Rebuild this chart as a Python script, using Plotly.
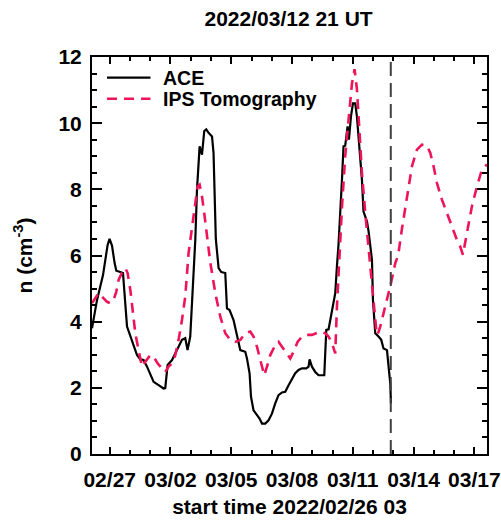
import pandas as pd
import plotly.graph_objects as go

# ---------------- data ----------------
start_time = "2022-02-26 03:00"
end_time = "2022-03-17 15:00"
marker_time = "2022-03-12 21:00"
title_text = "2022/03/12 21 UT"
xlabel_text = "start time 2022/02/26 03"
ylabel_text = "n (cm<sup>-3</sup>)"
series_names = ["ACE", "IPS Tomography"]

# hours since start time
ace_hours = [0.0, 5.9, 9.8, 13.0, 15.8, 18.5, 20.8, 23.7, 26.8, 28.8, 33.5, 36.7,
             41.5, 45.4, 49.3, 53.3, 57.2, 61.1, 65.2, 69.1, 73.0, 78.9, 84.8, 86.8,
             89.6, 94.8, 98.7, 103.4, 106.6, 110.5, 113.2, 116.4, 118.5, 120.4, 122.4,
             124.4, 126.3, 127.5, 130.3, 133.0, 135.4, 138.1, 142.2, 144.0, 146.7,
             150.0, 153.2, 157.9, 159.9, 163.0, 167.7, 171.8, 175.7, 181.6, 183.6,
             186.7, 188.4, 191.4, 195.5, 198.5, 201.4, 205.3, 209.2, 213.2, 217.1,
             221.0, 225.1, 229.0, 232.9, 236.9, 240.8, 244.7, 248.8, 253.9, 256.6,
             257.8, 260.6, 264.5, 268.4, 275.2, 277.6, 280.3, 282.3, 285.5, 288.2,
             290.2, 292.0, 296.2, 298.0, 300.0, 302.8, 304.4, 306.8, 309.2, 311.9,
             313.9, 317.0, 319.8, 321.7, 325.8, 327.7, 329.7, 331.7, 332.9, 335.6,
             339.5, 342.7, 345.4, 349.5, 351.4, 353.4, 354.2]
ace_n = [3.8, 4.65, 5.06, 5.4, 5.87, 6.32, 6.5, 6.3, 5.77, 5.54, 5.5, 5.47,
         3.85, 3.55, 3.24, 2.99, 2.86, 2.84, 2.64, 2.38, 2.18, 2.08, 1.98, 1.99,
         2.69, 2.84, 3.04, 3.24, 3.45, 3.5, 3.14, 3.55, 4.45, 5.47, 6.48,
         8.0, 9.0, 9.3, 9.05, 9.76, 9.81, 9.71, 9.6, 9.1, 6.5,
         5.62, 5.5, 5.47, 4.4, 4.35, 4.05, 3.55, 3.14, 3.09, 2.89,
         2.44, 1.73, 1.32, 1.17, 1.07, 0.92, 0.92, 1.02, 1.22, 1.53,
         1.78, 1.86, 1.88, 2.08, 2.28, 2.44, 2.54, 2.59, 2.59, 2.64,
         2.86, 2.64, 2.48, 2.38, 2.38, 3.75, 3.77, 4.05, 4.45, 4.86,
         5.67, 6.3, 8.3, 9.3, 9.32, 9.9, 9.5, 10.2, 10.6, 10.6,
         10.2, 9.2, 8.3, 7.33, 7.03, 6.73, 6.27, 5.87, 4.66, 3.65,
         3.55, 3.45, 3.19, 3.14, 2.64, 2.13, 1.53]

ips_hours = [0.0, 3.9, 7.8, 11.8, 17.8, 21.7, 25.6, 28.8, 31.5, 35.5, 39.4, 42.2,
             45.4, 48.6, 51.3, 55.2, 59.2, 63.1, 69.1, 73.0, 77.7, 82.9, 86.8, 90.7,
             94.8, 98.7, 102.6, 106.6, 110.5, 114.4, 118.5, 122.4, 125.1, 127.5,
             130.3, 133.0, 136.2, 140.1, 146.1, 152.0, 157.9, 163.8, 169.7, 175.7,
             181.6, 187.5, 191.4, 195.5, 199.4, 204.1, 207.3, 211.2, 217.1, 221.0,
             225.1, 231.0, 234.9, 238.8, 243.6, 248.8, 254.7, 260.6, 265.7, 270.4,
             276.4, 280.3, 284.3, 288.2, 290.2, 292.1, 294.1, 296.2, 300.0, 304.0,
             308.0, 311.1, 313.9, 317.0, 319.8, 323.8, 327.7, 331.7, 334.4, 336.8,
             338.3, 341.5, 345.4, 349.5, 354.2, 359.3, 362.7, 367.2, 373.1, 379.1,
             385.0, 390.9, 396.8, 400.8, 404.7, 408.7, 414.6, 420.5, 426.5, 432.4,
             436.3, 439.5, 444.2, 450.1, 456.1, 462.0, 467.9]
ips_n = [4.56, 4.71, 4.86, 4.76, 4.6, 4.56, 4.66, 4.91, 5.26, 5.48, 5.62, 5.47,
         4.96, 4.25, 3.65, 3.14, 2.64, 2.79, 2.99, 2.94, 2.74, 2.59, 2.48, 2.64,
         2.74, 2.99, 3.45, 4.05, 4.76, 6.07, 6.88, 7.69, 8.09, 8.14,
         7.79, 7.28, 6.55, 5.8, 4.86, 4.15, 3.65, 3.45, 3.39, 3.45,
         3.65, 3.7, 3.55, 3.24, 2.84, 2.38, 2.64, 2.99, 3.29, 3.39,
         3.24, 3.04, 2.89, 3.09, 3.39, 3.55, 3.6, 3.6, 3.65, 3.7,
         3.65, 3.55, 3.35, 3.04, 4.45, 5.47, 6.47, 7.48, 9.0, 10.2,
         11.2, 11.63, 11.02, 9.71, 8.5, 7.28, 6.27, 5.26, 4.45, 3.75,
         3.6, 3.85, 4.25, 4.66, 5.16, 5.77, 6.0, 6.8, 7.79, 8.7,
         9.2, 9.35, 9.32, 9.1, 8.7, 8.19, 7.69, 7.28, 6.88, 6.47,
         6.27, 6.02, 6.68, 7.48, 8.09, 8.6, 8.75]

# ---------------- styling ----------------
FONT = "Liberation Sans, Arial, sans-serif"
ace_color = "#000000"
ips_color = "#EE1458"
vline_color = "#404040"

t0 = pd.Timestamp(start_time)
ace_t = t0 + pd.to_timedelta(ace_hours, unit="h")
ips_t = t0 + pd.to_timedelta(ips_hours, unit="h")

fig = go.Figure()
fig.add_trace(go.Scatter(x=ace_t, y=ace_n, mode="lines", name=series_names[0],
                         line=dict(color=ace_color, width=2.2)))
fig.add_trace(go.Scatter(x=ips_t, y=ips_n, mode="lines", name=series_names[1],
                         line=dict(color=ips_color, width=2.6, dash="10px,7px")))

fig.add_shape(type="line", xref="x", yref="paper",
              x0=pd.Timestamp(marker_time), x1=pd.Timestamp(marker_time), y0=0, y1=1,
              line=dict(color=vline_color, width=2, dash="14px,7px"))

# legend drawn inside the frame (upper left)
leg_rows = [(0.948, ace_color, "solid", 2.2), (0.895, ips_color, "10px,7px", 2.6)]
for (yp, col, dsh, w), name in zip(leg_rows, series_names):
    fig.add_shape(type="line", xref="paper", yref="paper", x0=0.038, x1=0.148,
                  y0=yp, y1=yp, line=dict(color=col, width=w, dash=dsh))
    fig.add_annotation(x=0.174, y=yp, xref="paper", yref="paper", text=f"<b>{name}</b>",
                       showarrow=False, xanchor="left", yanchor="middle",
                       font=dict(family=FONT, size=19.5, color="black"))

axis_common = dict(showline=True, linewidth=2, linecolor="black", mirror="allticks",
                   ticks="inside", tickcolor="black", tickwidth=1.5, showgrid=False,
                   zeroline=False, automargin=False,
                   tickfont=dict(family=FONT, size=21, color="black"))

fig.update_xaxes(type="date", range=[t0, pd.Timestamp(end_time)],
                 tick0="2022-02-27", dtick=3 * 86400000, tickformat="<b>%m/%d</b>",
                 ticklen=7, ticklabeloverflow="allow", ticklabelstandoff=6,
                 minor=dict(dtick=86400000, tick0="2022-02-27", ticks="inside", ticklen=4,
                            tickcolor="black", tickwidth=1.5, showgrid=False),
                 title=dict(text=f"<b>{xlabel_text}</b>", standoff=9,
                            font=dict(family=FONT, size=21, color="black")),
                 **axis_common)
fig.update_yaxes(range=[0, 12], tick0=0, dtick=2, ticklen=10, tickprefix="<b>", ticksuffix="</b>",
                 ticklabelstandoff=4,
                 minor=dict(dtick=0.5, ticks="inside", ticklen=5, tickcolor="black",
                            tickwidth=1.5, showgrid=False),
                 title=dict(text=f"<b>{ylabel_text}</b>", standoff=20,
                            font=dict(family=FONT, size=21, color="black")),
                 **axis_common)

fig.update_layout(
    width=501, height=520,
    margin=dict(l=92, r=14, t=57, b=66),
    plot_bgcolor="white", paper_bgcolor="white",
    showlegend=False,
    title=dict(text=f"<b>{title_text}</b>", x=0.576, xanchor="center", y=0.964, yanchor="middle",
               font=dict(family=FONT, size=21, color="black")),
)

fig.write_html("out.html")
